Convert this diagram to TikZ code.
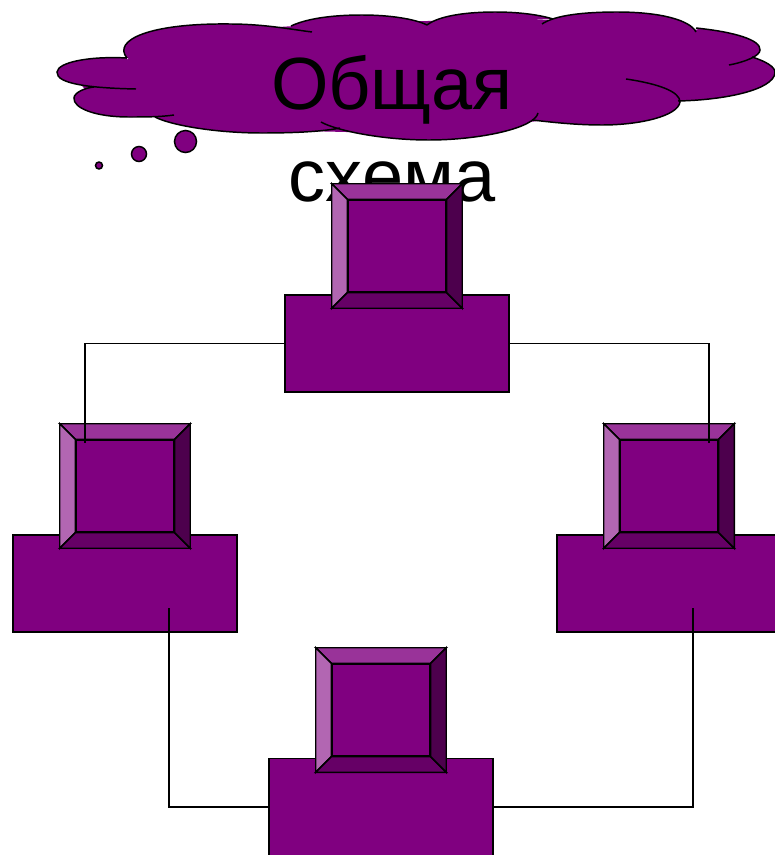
\documentclass[tikz,border=0pt]{standalone}
\usepackage{fontspec}
\setmainfont{Liberation Sans}
\usepackage{tikz}
\usetikzlibrary{positioning}

\definecolor{plum}{HTML}{800080}
\definecolor{plumTop}{HTML}{993399}
\definecolor{plumLeft}{HTML}{B266B2}
\definecolor{plumBottom}{HTML}{660066}
\definecolor{plumRight}{HTML}{4D004D}

\tikzset{
  line/.style={draw=black,line width=1.05pt},
  station/.style={line,fill=plum,inner sep=0,minimum width=5.6cm,minimum height=2.425cm},
  outerkey/.style={line,inner sep=0,minimum width=3.225cm,minimum height=3.075cm},
  innerkey/.style={line,fill=plum,inner sep=0,minimum width=2.45cm,minimum height=2.3cm},
  puff/.style={line,fill=plum,circle,inner sep=0},
}

% raised key: outer frame, inner face, four slanted sides
\newcommand{\keycap}[3]{
  \node[outerkey] (#1Outer) at (#2,#3) {};
  \node[innerkey] (#1Inner) at (#2,#3) {};
  \filldraw[line,fill=plumTop] (#1Outer.north west) -- (#1Outer.north east) -- (#1Inner.north east) -- (#1Inner.north west) -- cycle;
  \filldraw[line,fill=plumLeft] (#1Outer.north west) -- (#1Outer.south west) -- (#1Inner.south west) -- (#1Inner.north west) -- cycle;
  \filldraw[line,fill=plumBottom] (#1Outer.south west) -- (#1Outer.south east) -- (#1Inner.south east) -- (#1Inner.south west) -- cycle;
  \filldraw[line,fill=plumRight] (#1Outer.north east) -- (#1Outer.south east) -- (#1Inner.south east) -- (#1Inner.north east) -- cycle;
}

\begin{document}
\begin{tikzpicture}[x=0.025cm,y=-0.025cm]
\useasboundingbox (0,0) rectangle (775,855);
\clip (0,0) rectangle (775,855);

% cloud
\def\lobes{
  {(136,89) .. controls (90,88) and (56,84) .. (57,72) .. controls (58,62) and (90,56) .. (127,58)},
  {(127,58) .. controls (112,40) and (150,23) .. (230,24) .. controls (265,24) and (295,30) .. (312,32)},
  {(291,26) .. controls (310,17) and (340,15) .. (362,15) .. controls (390,15) and (415,19) .. (427,25)},
  {(427,25) .. controls (440,15) and (470,12) .. (495,12) .. controls (520,12) and (540,15) .. (553,19)},
  {(542,24) .. controls (555,15) and (585,12) .. (617,12) .. controls (660,12) and (690,20) .. (696,32)},
  {(696,28) .. controls (735,32) and (761,40) .. (760,50) .. controls (760,56) and (745,62) .. (729,65)},
  {(752,57) .. controls (765,61) and (776,67) .. (775,73) .. controls (773,90) and (725,100) .. (678,101)},
  {(626,79) .. controls (660,84) and (680,92) .. (680,102) .. controls (678,116) and (640,125) .. (602,125) .. controls (575,125) and (550,122) .. (532,120)},
  {(538,113) .. controls (535,128) and (480,140) .. (429,140) .. controls (380,140) and (335,130) .. (321,122)},
  {(340,128) .. controls (320,132) and (290,133) .. (262,133) .. controls (215,133) and (170,125) .. (155,117)},
  {(174,115) .. controls (160,117) and (145,117) .. (129,117) .. controls (95,117) and (73,108) .. (74,98) .. controls (74,93) and (84,88) .. (94,87)}
}
\foreach \lobe in \lobes {\fill[plum] \lobe;}
\fill[plum] (127,60) -- (135,50) -- (230,30) -- (360,22) -- (495,20) -- (617,20) -- (692,30) -- (697,29.5) -- (740,50) -- (765,72) -- (700,96) -- (670,104) -- (600,120) -- (538,121) -- (430,134) -- (262,130) -- (157,118) -- (140,112) -- (90,95) -- (70,72) -- cycle;
\foreach \lobe in \lobes {\draw[line] \lobe;}

\node[puff,minimum size=0.55cm] (PuffA) at (185.5,141.5) {};
\node[puff,minimum size=0.375cm] (PuffB) at (139,154) {};
\node[puff,minimum size=0.175cm] (PuffC) at (99,165.5) {};

\node[align=center,inner sep=0,font=\fontsize{52.6}{65.4}\selectfont] (Title) at (392,129) {Общая\\схема};

\node[station] (TopBase) at (397,343.5) {};
\node[station] (LeftBase) at (125,583.5) {};
\node[station] (RightBase) at (669,583.5) {};
\node[station] (BottomBase) at (381,807) {};

\keycap{TopKey}{397}{246}
\keycap{LeftKey}{125}{486}
\keycap{RightKey}{669}{486}
\keycap{BottomKey}{381}{710}

\coordinate (LeftEnd) at (85,443);
\coordinate (RightEnd) at (709,443);
\coordinate (LeftStart) at (169,608);
\coordinate (RightStart) at (693,608);

\draw[line] (TopBase.west) -| (LeftEnd);
\draw[line] (TopBase.east) -| (RightEnd);
\draw[line] (LeftStart) |- (BottomBase.west);
\draw[line] (RightStart) |- (BottomBase.east);
\end{tikzpicture}
\end{document}
